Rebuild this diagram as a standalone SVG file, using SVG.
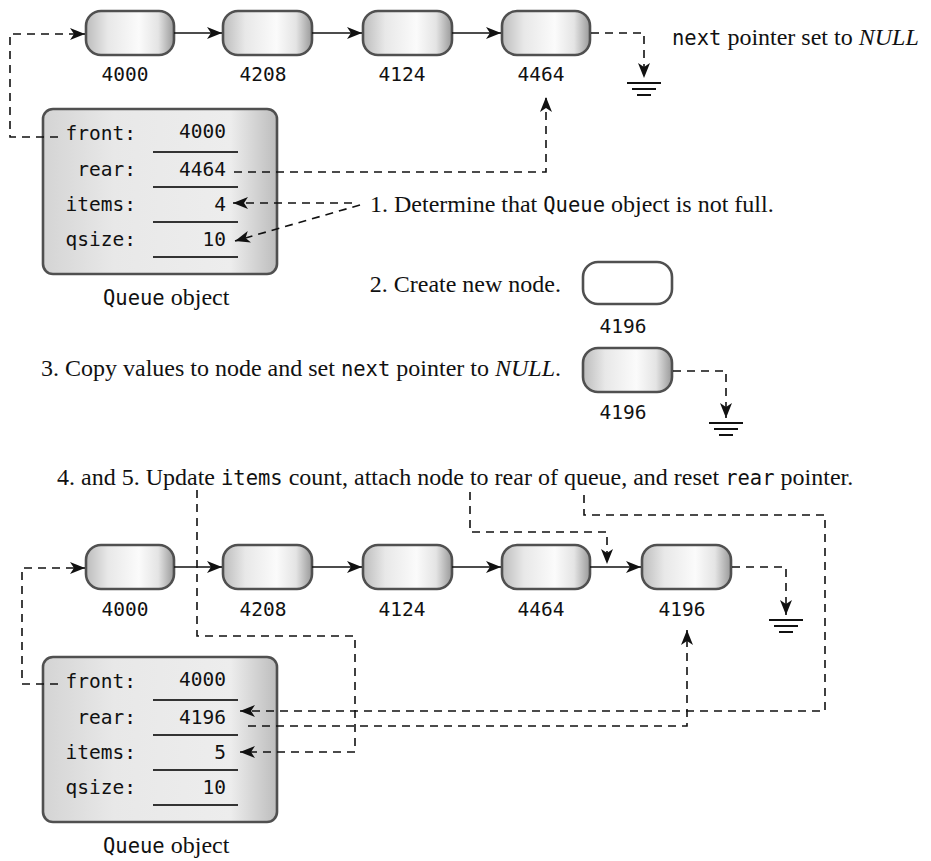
<svg xmlns="http://www.w3.org/2000/svg" width="931" height="861" viewBox="0 0 931 861">
<style>
.node{stroke:#505050;stroke-width:2.6;fill:url(#ng)}
.nodew{stroke:#505050;stroke-width:2.6;fill:#fff}
.qbox{stroke:#505050;stroke-width:2.6;fill:url(#qg)}
.mono{font-family:"DejaVu Sans Mono","Liberation Mono",monospace;font-size:19.5px;fill:#111}
.lbl{font-family:"DejaVu Sans Mono","Liberation Mono",monospace;font-size:19.5px;fill:#111;text-anchor:middle}
.serif{font-family:"Liberation Serif","Times New Roman",serif;font-size:24px;fill:#111}
.im{font-family:"DejaVu Sans Mono","Liberation Mono",monospace;font-size:20.5px}
.it{font-style:italic}
.ul{stroke:#333;stroke-width:2}
.solid{fill:none;stroke:#111;stroke-width:1.6}
.dash{fill:none;stroke:#111;stroke-width:1.6;stroke-dasharray:8 6}
.gnd{stroke:#111;stroke-width:2}
</style>
<defs>
<linearGradient id="ng" x1="0" y1="0" x2="1" y2="0">
<stop offset="0" stop-color="#bcbcbc"/>
<stop offset="0.25" stop-color="#e8e8e8"/>
<stop offset="0.6" stop-color="#fbfbfb"/>
<stop offset="0.82" stop-color="#e4e4e4"/>
<stop offset="1" stop-color="#999"/>
</linearGradient>
<linearGradient id="qg" x1="0" y1="0" x2="1" y2="0">
<stop offset="0" stop-color="#d4d4d4"/>
<stop offset="0.3" stop-color="#e8e8e8"/>
<stop offset="0.8" stop-color="#ededed"/>
<stop offset="1" stop-color="#bdbdbd"/>
</linearGradient>
<marker id="ah" markerUnits="userSpaceOnUse" markerWidth="16" markerHeight="14" refX="15" refY="6" orient="auto" viewBox="0 0 16 12">
<path d="M0,0 L15,6 L0,12 L4,6 z" fill="#111"/>
</marker>
</defs>

<!-- Top linked list -->
<g id="t-n4000"><rect class="node" x="86" y="11" width="88" height="44" rx="15"/><text class="lbl" x="125" y="81">4000</text></g>
<g id="t-n4208"><rect class="node" x="223" y="11" width="89" height="44" rx="15"/><text class="lbl" x="263" y="81">4208</text></g>
<g id="t-n4124"><rect class="node" x="363" y="11" width="89" height="44" rx="15"/><text class="lbl" x="402" y="81">4124</text></g>
<g id="t-n4464"><rect class="node" x="502" y="11" width="88" height="44" rx="15"/><text class="lbl" x="541" y="81">4464</text></g>
<g id="t-gnd"><line class="gnd" x1="627" y1="83" x2="661" y2="83"/><line class="gnd" x1="632" y1="89" x2="656" y2="89"/><line class="gnd" x1="637" y1="95" x2="651" y2="95"/></g>
<g id="t-note"><text class="serif" x="672" y="45"><tspan class="im">next</tspan> pointer set to <tspan class="it">NULL</tspan></text></g>

<!-- Top Queue object -->
<g id="t-queue">
<rect class="qbox" x="43" y="109" width="234" height="165" rx="10"/>
<text class="mono" x="136" y="140" text-anchor="end">front:</text>
<text class="mono" x="226" y="138" text-anchor="end">4000</text>
<line class="ul" x1="153" y1="152" x2="238" y2="152"/>
<text class="mono" x="136" y="176" text-anchor="end">rear:</text>
<text class="mono" x="226" y="176" text-anchor="end">4464</text>
<line class="ul" x1="153" y1="187" x2="238" y2="187"/>
<text class="mono" x="136" y="211" text-anchor="end">items:</text>
<text class="mono" x="226" y="211" text-anchor="end">4</text>
<line class="ul" x1="153" y1="222" x2="238" y2="222"/>
<text class="mono" x="136" y="246" text-anchor="end">qsize:</text>
<text class="mono" x="226" y="246" text-anchor="end">10</text>
<line class="ul" x1="153" y1="257" x2="238" y2="257"/>
<text class="serif" x="103" y="305"><tspan class="im">Queue</tspan> object</text>
</g>

<!-- Steps 1-3 -->
<g id="step1"><text class="serif" x="370" y="212">1. Determine that <tspan class="im">Queue</tspan> object is not full.</text></g>
<g id="step2"><text class="serif" x="561" y="292" text-anchor="end">2. Create new node.</text></g>
<g id="m-n4196a"><rect class="nodew" x="583" y="262" width="89" height="42" rx="15"/><text class="lbl" x="623" y="333">4196</text></g>
<g id="step3"><text class="serif" x="561" y="376" text-anchor="end">3. Copy values to node and set <tspan class="im">next</tspan> pointer to <tspan class="it">NULL</tspan>.</text></g>
<g id="m-n4196b"><rect class="node" x="583" y="348" width="89" height="44" rx="15"/><text class="lbl" x="623" y="419">4196</text></g>
<g id="m-gnd"><line class="gnd" x1="709" y1="423" x2="743" y2="423"/><line class="gnd" x1="714" y1="429" x2="738" y2="429"/><line class="gnd" x1="719" y1="435" x2="733" y2="435"/></g>

<!-- Step 4/5 -->
<g id="step4"><text class="serif" x="57" y="485">4. and 5. Update <tspan class="im">items</tspan> count, attach node to rear of queue, and reset <tspan class="im">rear</tspan> pointer.</text></g>

<!-- Bottom linked list -->
<g id="b-n4000"><rect class="node" x="86" y="545" width="88" height="44" rx="15"/><text class="lbl" x="125" y="616">4000</text></g>
<g id="b-n4208"><rect class="node" x="223" y="545" width="89" height="44" rx="15"/><text class="lbl" x="263" y="616">4208</text></g>
<g id="b-n4124"><rect class="node" x="363" y="545" width="89" height="44" rx="15"/><text class="lbl" x="402" y="616">4124</text></g>
<g id="b-n4464"><rect class="node" x="502" y="545" width="88" height="44" rx="15"/><text class="lbl" x="541" y="616">4464</text></g>
<g id="b-n4196"><rect class="node" x="642" y="545" width="89" height="44" rx="15"/><text class="lbl" x="682" y="616">4196</text></g>
<g id="b-gnd"><line class="gnd" x1="769" y1="620" x2="803" y2="620"/><line class="gnd" x1="774" y1="626" x2="798" y2="626"/><line class="gnd" x1="779" y1="632" x2="793" y2="632"/></g>

<!-- Bottom Queue object -->
<g id="b-queue">
<rect class="qbox" x="43" y="657" width="234" height="165" rx="10"/>
<text class="mono" x="136" y="688" text-anchor="end">front:</text>
<text class="mono" x="226" y="686" text-anchor="end">4000</text>
<line class="ul" x1="153" y1="700" x2="238" y2="700"/>
<text class="mono" x="136" y="724" text-anchor="end">rear:</text>
<text class="mono" x="226" y="724" text-anchor="end">4196</text>
<line class="ul" x1="153" y1="735" x2="238" y2="735"/>
<text class="mono" x="136" y="759" text-anchor="end">items:</text>
<text class="mono" x="226" y="759" text-anchor="end">5</text>
<line class="ul" x1="153" y1="770" x2="238" y2="770"/>
<text class="mono" x="136" y="794" text-anchor="end">qsize:</text>
<text class="mono" x="226" y="794" text-anchor="end">10</text>
<line class="ul" x1="153" y1="805" x2="238" y2="805"/>
<text class="serif" x="103" y="853"><tspan class="im">Queue</tspan> object</text>
</g>

<!-- Connectors -->
<g id="connectors">
<!-- top -->
<path class="dash" d="M58,137 H10 V34 H85" marker-end="url(#ah)"/>
<path class="solid" d="M174,33 H222" marker-end="url(#ah)"/>
<path class="solid" d="M312,33 H362" marker-end="url(#ah)"/>
<path class="solid" d="M452,33 H501" marker-end="url(#ah)"/>
<path class="dash" d="M591,33 H644 V78" marker-end="url(#ah)"/>
<path class="dash" d="M234,172 H546 V97" marker-end="url(#ah)"/>
<path class="dash" d="M352,203 H233" marker-end="url(#ah)"/>
<path class="dash" d="M360,205 L235,241" marker-end="url(#ah)"/>
<!-- middle -->
<path class="dash" d="M673,371 H726 V418" marker-end="url(#ah)"/>
<!-- bottom -->
<path class="dash" d="M58,684 H22 V568 H85" marker-end="url(#ah)"/>
<path class="solid" d="M174,567 H222" marker-end="url(#ah)"/>
<path class="solid" d="M312,567 H362" marker-end="url(#ah)"/>
<path class="solid" d="M452,567 H501" marker-end="url(#ah)"/>
<path class="solid" d="M590,567 H641" marker-end="url(#ah)"/>
<path class="dash" d="M732,567 H786 V615" marker-end="url(#ah)"/>
<path class="dash" d="M197,490 V636 H355 V752 H240" marker-end="url(#ah)"/>
<path class="dash" d="M470,492 V532 H607 V564" marker-end="url(#ah)"/>
<path class="dash" d="M584,495 V515 H825 V711 H240" marker-end="url(#ah)"/>
<path class="dash" d="M248,726 H687 V630" marker-end="url(#ah)"/>
</g>
</svg>
